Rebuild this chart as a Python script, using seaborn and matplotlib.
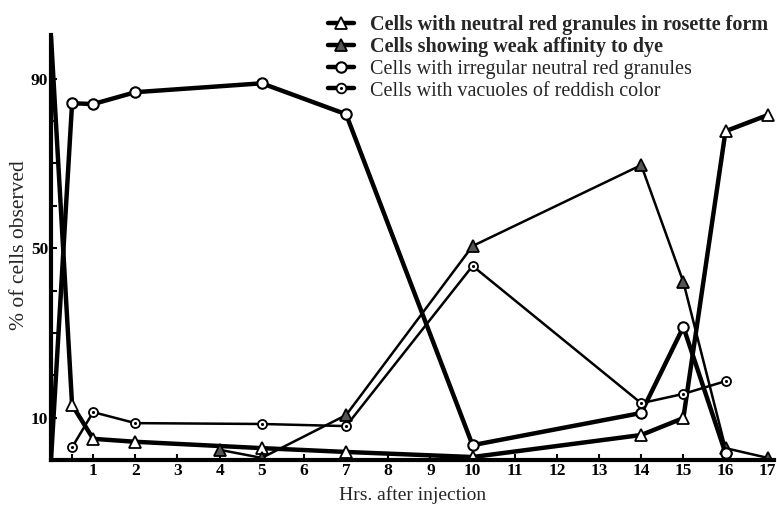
import matplotlib
matplotlib.use("Agg")
import matplotlib.pyplot as plt
import seaborn as sns
import pandas as pd
from matplotlib.ticker import FixedLocator
from matplotlib.lines import Line2D
from matplotlib.legend_handler import HandlerTuple

sns.set_style("ticks")
plt.rcParams['font.family'] = ['Liberation Serif', 'DejaVu Serif']

# --- data ---
rosette_x = [0, 0.5, 1, 2, 5, 7, 10, 14, 15, 16, 17]
rosette_y = [100, 13, 5, 4.3, 2.8, 1.9, 0.7, 5.9, 9.9, 77.6, 81.4]

weak_x = [4, 5, 7, 10, 14, 15, 16, 17]
weak_y = [2.4, 0.5, 10.6, 50.5, 69.6, 42, 2.8, 0.5]

irregular_x = [0, 0.5, 1, 2, 5, 7, 10, 14, 15, 16]
irregular_y = [0, 84.2, 84, 86.8, 88.9, 81.6, 3.5, 11.1, 31.4, 1.6]

vacuole_x = [0.5, 1, 2, 5, 7, 10, 14, 15, 16]
vacuole_y = [3.0, 11.3, 8.7, 8.5, 8.0, 45.8, 13.4, 15.6, 18.6]

labels = ["Cells with neutral red granules in rosette form",
          "Cells showing weak affinity to dye",
          "Cells with irregular neutral red granules",
          "Cells with vacuoles of reddish color"]

x_ticks = list(range(1, 18))
y_ticks_labeled = [10, 50, 90]
y_ticks_minor = [20, 30, 40, 60, 70, 80]

fig = plt.figure(figsize=(7.77, 5.07), dpi=100)
ax = fig.add_axes([51/777, 1-460/507, (774-51)/777, (460-35)/507])

df_r = pd.DataFrame({"x": rosette_x, "y": rosette_y})
df_w = pd.DataFrame({"x": weak_x, "y": weak_y})
df_i = pd.DataFrame({"x": irregular_x, "y": irregular_y})
df_v = pd.DataFrame({"x": vacuole_x, "y": vacuole_y})

skip_first_r = list(range(1, len(rosette_x)))
skip_first_i = list(range(1, len(irregular_x)))

sns.lineplot(data=df_r, x="x", y="y", ax=ax, color="black", lw=3.2,
             marker="^", markersize=8, markerfacecolor="white",
             markeredgecolor="black", markeredgewidth=1.3,
             markevery=skip_first_r, legend=False)
sns.lineplot(data=df_w, x="x", y="y", ax=ax, color="black", lw=1.8,
             marker="^", markersize=8, markerfacecolor="#555555",
             markeredgecolor="black", markeredgewidth=1.3, legend=False)
sns.lineplot(data=df_i, x="x", y="y", ax=ax, color="black", lw=3.2,
             marker="o", markersize=7.5, markerfacecolor="white",
             markeredgecolor="black", markeredgewidth=1.5,
             markevery=skip_first_i, legend=False)
sns.lineplot(data=df_v, x="x", y="y", ax=ax, color="black", lw=1.8,
             marker="o", markersize=6.5, markerfacecolor="white",
             markeredgecolor="black", markeredgewidth=1.3, legend=False)
sns.scatterplot(data=df_v, x="x", y="y", ax=ax, color="black", s=5,
                marker="o", linewidth=0, legend=False, zorder=5)

ax.set_xlim(0, 17.15)
ax.set_ylim(0, 100.3)

for s in ["top", "right"]:
    ax.spines[s].set_visible(False)
for s in ["left", "bottom"]:
    ax.spines[s].set_linewidth(3)
    ax.spines[s].set_color("black")

ax.xaxis.set_major_locator(FixedLocator(x_ticks))
ax.xaxis.set_minor_locator(FixedLocator([0.5]))
ax.set_xticklabels([str(t) for t in x_ticks])
ax.yaxis.set_major_locator(FixedLocator(y_ticks_labeled))
ax.yaxis.set_minor_locator(FixedLocator(y_ticks_minor))
ax.set_yticklabels([str(t) for t in y_ticks_labeled])
ax.tick_params(axis="both", which="both", direction="in", length=4, width=1.5,
               colors="black", labelsize=12.5, pad=2)
for t in ax.get_xticklabels() + ax.get_yticklabels():
    t.set_fontweight("bold")

ax.set_xlabel("Hrs. after injection", fontsize=14, labelpad=5)
ax.set_ylabel("% of cells observed", fontsize=15.5)
ax.yaxis.set_label_coords((29 - 51) / 723, (460 - 245) / 425)

# legend handles
h_r = Line2D([], [], color="black", lw=3.2, marker="^", markersize=8,
             markerfacecolor="white", markeredgecolor="black", markeredgewidth=1.3)
h_w = Line2D([], [], color="black", lw=3.2, marker="^", markersize=8,
             markerfacecolor="#555555", markeredgecolor="black", markeredgewidth=1.3)
h_i = Line2D([], [], color="black", lw=3.2, marker="o", markersize=7.5,
             markerfacecolor="white", markeredgecolor="black", markeredgewidth=1.5)
h_v1 = Line2D([], [], color="black", lw=3.2, marker="o", markersize=7,
              markerfacecolor="white", markeredgecolor="black", markeredgewidth=1.3)
h_v2 = Line2D([], [], color="none", lw=0, marker="o", markersize=2.2,
              markerfacecolor="black", markeredgewidth=0)

leg = fig.legend([h_r, h_w, h_i, (h_v1, h_v2)], labels,
                 loc="upper right", bbox_to_anchor=(776/777, 1-7/507),
                 frameon=False, fontsize=14.5, handlelength=1.3,
                 handletextpad=0.8, labelspacing=0.12, borderaxespad=0,
                 handler_map={tuple: HandlerTuple(ndivide=1, pad=0)})
for i, t in enumerate(leg.get_texts()):
    if i < 2:
        t.set_fontweight("bold")

fig.savefig("out.png", dpi=100)
